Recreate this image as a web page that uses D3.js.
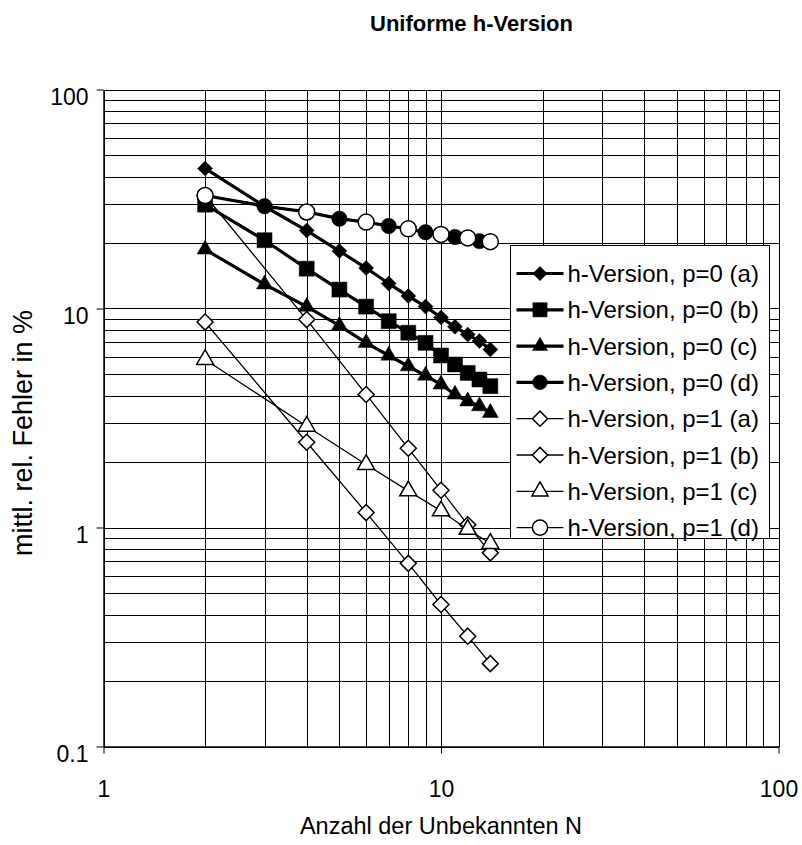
<!DOCTYPE html>
<html>
<head>
<meta charset="utf-8">
<script src="https://cdn.jsdelivr.net/npm/d3@7"></script>
<style>
  html, body { margin: 0; padding: 0; background: #fff; }
  svg { display: block; font-family: "Liberation Sans", Arial, sans-serif; }
</style>
</head>
<body>
<svg id="chart" width="802" height="845"></svg>
<script>
// Mean relative error (%) versus number of unknowns N
const nValues = [2, 3, 4, 5, 6, 7, 8, 9, 10, 11, 12, 13, 14];
const nEven = [2, 4, 6, 8, 10, 12, 14];

const p0a = [43.6, 29.3, 22.7, 18.3, 15.3, 13.0, 11.4, 10.2, 9.1, 8.25, 7.6, 7.1, 6.5];
const p0b = [29.8, 20.5, 15.2, 12.2, 10.2, 8.75, 7.75, 6.97, 6.1, 5.55, 5.08, 4.74, 4.42];
const p0c = [18.6, 12.9, 10.2, 8.35, 6.97, 6.1, 5.45, 4.94, 4.5, 4.05, 3.77, 3.58, 3.34];
const p0d = [32.8, 29.3, 27.6, 25.7, 24.8, 23.8, 23.1, 22.3, 21.8, 21.2, 21.0, 20.3, 20.2];
const p1a = [32.8, 8.9, 4.05, 2.3, 1.48, 1.03, 0.766];
const p1b = [8.67, 2.45, 1.17, 0.686, 0.445, 0.319, 0.239];
const p1c = [5.85, 2.9, 1.94, 1.47, 1.19, 0.98, 0.845];
const p1d = [32.8, 27.6, 24.8, 23.1, 21.8, 21.0, 20.2];

const seriesNames = [
  "h-Version, p=0 (a)", "h-Version, p=0 (b)", "h-Version, p=0 (c)", "h-Version, p=0 (d)",
  "h-Version, p=1 (a)", "h-Version, p=1 (b)", "h-Version, p=1 (c)", "h-Version, p=1 (d)"
];
const xTickLabels = ["1", "10", "100"];
const yTickLabels = ["0.1", "1", "10", "100"];

const chartTitle = "Uniforme h-Version";
const xTitle = "Anzahl der Unbekannten N";
const yTitle = "mittl. rel. Fehler in %";

// series styling: marker shape, filled or open, line weight
const series = [
  { name: seriesNames[0], xs: nValues, ys: p0a, shape: "diamond", filled: true,  r: 7.5, thick: true },
  { name: seriesNames[1], xs: nValues, ys: p0b, shape: "square",  filled: true,  r: 7.5, thick: true },
  { name: seriesNames[2], xs: nValues, ys: p0c, shape: "triangle",filled: true,  r: 8,   thick: true },
  { name: seriesNames[3], xs: nValues, ys: p0d, shape: "circle",  filled: true,  r: 7.7, thick: true },
  { name: seriesNames[4], xs: nEven,   ys: p1a, shape: "diamond", filled: false, r: 8,   thick: false },
  { name: seriesNames[5], xs: nEven,   ys: p1b, shape: "diamond", filled: false, r: 8,   thick: false },
  { name: seriesNames[6], xs: nEven,   ys: p1c, shape: "triangle",filled: false, r: 8.5, thick: false },
  { name: seriesNames[7], xs: nEven,   ys: p1d, shape: "circle",  filled: false, r: 8,   thick: false }
];

const svg = d3.select("#chart");
const plot = { left: 103.5, right: 778.5, top: 89.5, bottom: 746.5 };

const x = d3.scaleLog().domain([1, 100]).range([plot.left, plot.right]);
const y = d3.scaleLog().domain([0.1, 100]).range([plot.bottom, plot.top]);

// gridlines at every log step
const xGrid = [];
for (let d = 1; d < 100; d *= 10) for (let k = 1; k <= 10; k++) xGrid.push(d * k);
const yGrid = [];
for (let d = 0.1; d < 100; d *= 10) for (let k = 1; k <= 10; k++) yGrid.push(+(d * k).toPrecision(3));

const grid = svg.append("g").attr("stroke", "#000").attr("stroke-width", 1)
  .attr("shape-rendering", "crispEdges");
grid.selectAll("line.gx").data(xGrid).join("line")
  .attr("x1", d => Math.round(x(d)) + 0.5).attr("x2", d => Math.round(x(d)) + 0.5)
  .attr("y1", plot.top).attr("y2", plot.bottom);
grid.selectAll("line.gy").data(yGrid).join("line")
  .attr("y1", d => Math.round(y(d)) + 0.5).attr("y2", d => Math.round(y(d)) + 0.5)
  .attr("x1", plot.left).attr("x2", plot.right);

// axes with major ticks only
const xAxis = d3.axisBottom(x).tickValues([1, 10, 100]).tickFormat((d, i) => xTickLabels[i])
  .tickSize(7).tickSizeOuter(0);
const yAxis = d3.axisLeft(y).tickValues([0.1, 1, 10, 100]).tickFormat((d, i) => yTickLabels[i])
  .tickSize(7).tickSizeOuter(0);

const gx = svg.append("g").attr("transform", `translate(0,${plot.bottom})`).call(xAxis);
const gy = svg.append("g").attr("transform", `translate(${plot.left},0)`).call(yAxis);
[gx, gy].forEach(g => {
  g.select(".domain").attr("stroke", "#000").attr("stroke-width", 1.5);
  g.selectAll(".tick line").attr("stroke", "#000").attr("stroke-width", 1);
  g.selectAll(".tick text").attr("fill", "#000").attr("font-size", 23)
    .attr("font-family", "'Liberation Sans', Arial, sans-serif");
});
gx.selectAll(".tick text").attr("dy", null).attr("y", 50);
gy.selectAll(".tick text").attr("dy", null).attr("x", -15).attr("y", 15);

// marker generator
function symbolPath(shape, r) {
  const types = {
    diamond: d3.symbolDiamond2,
    square: d3.symbolSquare,
    triangle: d3.symbolTriangle,
    circle: d3.symbolCircle
  };
  let size;
  if (shape === "circle") size = Math.PI * r * r;
  else if (shape === "square") size = (2 * r) * (2 * r);
  else if (shape === "diamond") size = Math.pow(r / 0.62625, 2);
  else size = Math.pow(2 * r, 2) * Math.sqrt(3) / 4;
  return d3.symbol().type(types[shape]).size(size)();
}

const line = d3.line().x(d => x(d[0])).y(d => y(d[1]));

const marks = svg.append("g");
series.forEach(s => {
  const pts = s.xs.map((n, i) => [n, s.ys[i]]);
  const g = marks.append("g");
  g.append("path").datum(pts).attr("d", line)
    .attr("fill", "none").attr("stroke", "#000")
    .attr("stroke-width", s.thick ? 3.2 : 1.3).attr("stroke-linejoin", "round");
  g.selectAll("path.m").data(pts).join("path")
    .attr("transform", d => `translate(${x(d[0])},${y(d[1])})`)
    .attr("d", symbolPath(s.shape, s.r))
    .attr("fill", s.filled ? "#000" : "#fff")
    .attr("stroke", "#000").attr("stroke-width", s.filled ? 0.5 : 1.5);
});

// legend
const legend = svg.append("g").attr("transform", "translate(510.5,245.5)");
legend.append("rect").attr("width", 259).attr("height", 293)
  .attr("fill", "#fff").attr("stroke", "#000").attr("stroke-width", 1);
series.forEach((s, i) => {
  const cy = 28 + i * 36.3;
  const row = legend.append("g").attr("transform", `translate(0,${cy})`);
  row.append("line").attr("x1", 6).attr("x2", 53).attr("y1", 0).attr("y2", 0)
    .attr("stroke", "#000").attr("stroke-width", s.thick ? 3.2 : 1.3);
  row.append("path").attr("transform", "translate(29.5,0)")
    .attr("d", symbolPath(s.shape, s.r * 0.95))
    .attr("fill", s.filled ? "#000" : "#fff")
    .attr("stroke", "#000").attr("stroke-width", s.filled ? 0.5 : 1.5);
  row.append("text").attr("x", 57).attr("y", 8.5)
    .attr("font-size", 24).attr("fill", "#000").text(s.name);
});

// titles
svg.append("text").attr("x", 471.5).attr("y", 31).attr("text-anchor", "middle")
  .attr("font-size", 22).attr("font-weight", "bold").text(chartTitle);
svg.append("text").attr("x", 441).attr("y", 834).attr("text-anchor", "middle")
  .attr("font-size", 23.5).text(xTitle);
svg.append("text").attr("transform", "translate(32,433) rotate(-90)")
  .attr("text-anchor", "middle").attr("font-size", 27).text(yTitle);
</script>
</body>
</html>
